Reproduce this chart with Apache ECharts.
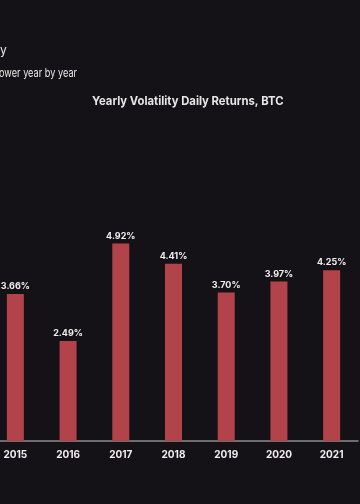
<!DOCTYPE html>
<html>
<head>
<meta charset="utf-8">
<script src="https://cdn.jsdelivr.net/npm/echarts@6/dist/echarts.min.js"></script>
<style>
html,body{margin:0;padding:0;background:#151217;overflow:hidden;}
#c{width:371px;height:504px;margin-left:-11px;}
</style>
</head>
<body>
<div id="c"></div>
<script>
const years = ['2015','2016','2017','2018','2019','2020','2021'];
const volatility = [3.66, 2.49, 4.92, 4.41, 3.70, 3.97, 4.25];
const chartTitle = 'Yearly Volatility Daily Returns, BTC';
const headingLine1 = 'y';
const headingLine2 = 'ower year by year';

const OFF = 11; // container is shifted left by this many px
const chart = echarts.init(document.getElementById('c'));
chart.setOption({
  backgroundColor: '#151217',
  animation: false,
  graphic: [
    {type: 'text', x: OFF + 0, y: 44, style: {text: headingLine1, fill: '#e8e8e8', font: '12px Inter'}},
    {type: 'text', x: OFF - 1, y: 68, scaleX: 0.8, style: {text: headingLine2, fill: '#e8e8e8', font: '11.5px Inter'}},
    {type: 'text', x: OFF + 92, y: 95, scaleX: 0.94, style: {text: chartTitle, fill: '#e6e6e6', font: 'bold 12px Inter'}}
  ],
  grid: {left: 0, right: 2, top: 200, bottom: 63},
  xAxis: {
    type: 'category',
    data: years,
    axisLine: {lineStyle: {color: '#8c8c8c', width: 1.5}},
    axisTick: {show: false},
    axisLabel: {color: '#f0f0f0', fontSize: 10, fontWeight: 'bold', fontFamily: 'Inter', margin: 9}
  },
  yAxis: {
    type: 'value',
    min: 0,
    max: 6,
    show: false,
    splitLine: {show: false}
  },
  series: [{
    type: 'bar',
    data: volatility,
    barWidth: 17,
    itemStyle: {color: '#b3434a'},
    label: {
      show: true,
      position: 'top',
      distance: 3,
      formatter: p => p.value.toFixed(2) + '%',
      color: '#f0f0f0',
      fontSize: 9,
      fontWeight: 'bold',
      fontFamily: 'Inter'
    }
  }]
});
</script>
</body>
</html>
